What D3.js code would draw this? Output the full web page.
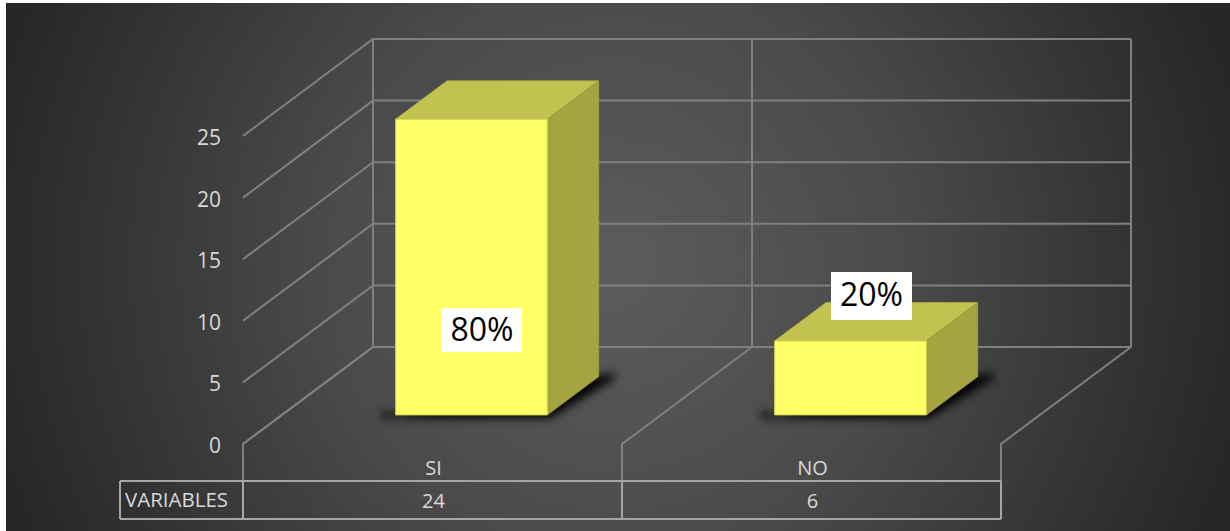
<!DOCTYPE html>
<html>
<head>
<meta charset="utf-8">
<script src="https://cdnjs.cloudflare.com/ajax/libs/d3/7.8.5/d3.min.js"></script>
<style>
    html, body { margin: 0; padding: 0; background: #fff; overflow: hidden; }
    svg { display: block; }
    text { font-family: "Open Sans", "Noto Sans", sans-serif; }
</style>
</head>
<body>
<div id="svg-container"></div>
<script>
const categories = ["SI", "NO"];
const values = [24, 6];
const percentLabels = ["80%", "20%"];
const yTicks = [0, 5, 10, 15, 20, 25];
const rowTitle = "VARIABLES";

const width = 1230, height = 531;

const svg = d3.select("#svg-container")
    .append("svg")
    .attr("width", width)
    .attr("height", height);

const defs = svg.append("defs");

// Background gradient
const bgGradient = defs.append("radialGradient")
    .attr("id", "bg")
    .attr("gradientUnits", "userSpaceOnUse")
    .attr("cx", 615).attr("cy", 265).attr("r", 650);
bgGradient.append("stop").attr("offset", "0%").attr("stop-color", "#5c5c5c");
bgGradient.append("stop").attr("offset", "45%").attr("stop-color", "#4a4a4a");
bgGradient.append("stop").attr("offset", "75%").attr("stop-color", "#363636");
bgGradient.append("stop").attr("offset", "100%").attr("stop-color", "#262626");

defs.append("filter")
    .attr("id", "blur")
    .attr("x", "-30%").attr("y", "-30%").attr("width", "160%").attr("height", "160%")
    .append("feGaussianBlur").attr("stdDeviation", 5);

svg.append("rect")
    .attr("x", 6).attr("y", 3)
    .attr("width", width - 6).attr("height", height - 3)
    .attr("fill", "url(#bg)");

// Scales: x and y live on the front plane, depth pushes towards the back wall
const x = d3.scaleBand().domain(categories).range([243, 1001]).paddingInner(0.6).paddingOuter(0.3);
const y = d3.scaleLinear().domain([0, 25]).range([444, 136]);
const depthX = d3.scaleLinear().domain([0, 1]).range([0, 130]);
const depthY = d3.scaleLinear().domain([0, 1]).range([0, -97]);

const project = (px, v, z) => [px + depthX(z), y(v) + depthY(z)];
const line = d3.line();

const gridColor = "#808080";
const tableColor = "#a6a6a6";
const left = x.range()[0], right = x.range()[1];
const step = x.step();
const edges = d3.range(categories.length + 1).map(i => left + i * step);

// Grid lines on the side and back walls
const grid = svg.append("g").attr("fill", "none").attr("stroke", gridColor).attr("stroke-width", 2);
grid.selectAll(".grid")
    .data(yTicks)
    .enter()
    .append("path")
    .attr("class", "grid")
    .attr("d", d => line([project(left, d, 0), project(left, d, 1), project(right, d, 1)]));

// Back wall verticals
grid.selectAll(".wall")
    .data(edges)
    .enter()
    .append("path")
    .attr("class", "wall")
    .attr("d", d => line([project(d, 0, 1), project(d, yTicks[yTicks.length - 1], 1)]));

// Floor lines
grid.selectAll(".floor")
    .data(edges)
    .enter()
    .append("path")
    .attr("class", "floor")
    .attr("d", d => line([project(d, 0, 1), project(d, 0, 0), [d, 481]]));

// Y axis labels
svg.selectAll(".tick-label")
    .data(yTicks)
    .enter()
    .append("text")
    .attr("class", "tick-label")
    .attr("x", 221)
    .attr("y", d => y(d) + 9)
    .attr("text-anchor", "end")
    .attr("font-size", 21)
    .attr("fill", "#d9d9d9")
    .text(d => d);

// Bars
const bars = categories.map((c, i) => ({ c, v: values[i], label: percentLabels[i] }));
const z0 = 0.3, z1 = 0.695;
const poly = pts => line(pts) + "Z";

const bar = svg.selectAll(".bar")
    .data(bars)
    .enter()
    .append("g")
    .attr("class", "bar");

bar.append("path")
    .attr("filter", "url(#blur)")
    .attr("fill", "#000")
    .attr("d", d => {
        const a = x(d.c), b = a + x.bandwidth();
        const f0 = project(a, 0, z0), f1 = project(b, 0, z0), b1 = project(b, 0, z1);
        return poly([[f0[0] - 14, f0[1] - 4], [f0[0] - 14, f0[1] + 3], [f1[0] + 3, f1[1] + 3], [b1[0] + 16, b1[1] + 2], [b1[0] + 16, b1[1] - 4], f0]);
    });

bar.append("path")
    .attr("fill", "#c2c250").attr("stroke", "#b4b448")
    .attr("d", d => {
        const a = x(d.c), b = a + x.bandwidth();
        return poly([project(a, d.v, z0), project(a, d.v, z1), project(b, d.v, z1), project(b, d.v, z0)]);
    });

bar.append("path")
    .attr("fill", "#a4a440").attr("stroke", "#9a9a3c")
    .attr("d", d => {
        const b = x(d.c) + x.bandwidth();
        return poly([project(b, 0, z0), project(b, d.v, z0), project(b, d.v, z1), project(b, 0, z1)]);
    });

bar.append("path")
    .attr("fill", "#ffff66").attr("stroke", "#d6d654")
    .attr("d", d => {
        const a = x(d.c), b = a + x.bandwidth();
        return poly([project(a, 0, z0), project(a, d.v, z0), project(b, d.v, z0), project(b, 0, z0)]);
    });

// Percent labels in white boxes, placed on the value
const labelBoxes = [[442, 308, 80, 44], [831, 272, 81, 48]];
const labels = svg.selectAll(".pct")
    .data(bars)
    .enter()
    .append("g")
    .attr("class", "pct");
labels.append("rect")
    .attr("x", (d, i) => labelBoxes[i][0])
    .attr("y", (d, i) => labelBoxes[i][1])
    .attr("width", (d, i) => labelBoxes[i][2])
    .attr("height", (d, i) => labelBoxes[i][3])
    .attr("fill", "#fff");
labels.append("text")
    .attr("x", (d, i) => labelBoxes[i][0] + labelBoxes[i][2] / 2)
    .attr("y", (d, i) => [341, 306][i])
    .attr("text-anchor", "middle")
    .attr("font-size", 32)
    .attr("fill", "#000")
    .text(d => d.label);

// Data table below the chart
const tableTop = 481, tableBottom = 519, titleLeft = 120;
const table = svg.append("g").attr("fill", "none").attr("stroke", tableColor).attr("stroke-width", 2);
table.append("path").attr("d", line([[titleLeft, tableTop], [right, tableTop]]));
table.append("path").attr("d", line([[titleLeft, tableBottom], [right, tableBottom]]));
table.selectAll(".col")
    .data([titleLeft].concat(edges))
    .enter()
    .append("path")
    .attr("class", "col")
    .attr("d", d => line([[d, tableTop], [d, tableBottom]]));

svg.append("text")
    .attr("x", 125).attr("y", 507)
    .attr("font-size", 20.5).attr("fill", "#d9d9d9")
    .text(rowTitle);

svg.selectAll(".cat")
    .data(categories)
    .enter()
    .append("text")
    .attr("class", "cat")
    .attr("x", d => x(d) + x.bandwidth() / 2 + 1)
    .attr("y", 475)
    .attr("text-anchor", "middle")
    .attr("font-size", 20)
    .attr("fill", "#d9d9d9")
    .text(d => d);

svg.selectAll(".val")
    .data(bars)
    .enter()
    .append("text")
    .attr("class", "val")
    .attr("x", d => x(d.c) + x.bandwidth() / 2 + 1)
    .attr("y", 508)
    .attr("text-anchor", "middle")
    .attr("font-size", 20)
    .attr("fill", "#d9d9d9")
    .text(d => d.v);
</script>
</body>
</html>
